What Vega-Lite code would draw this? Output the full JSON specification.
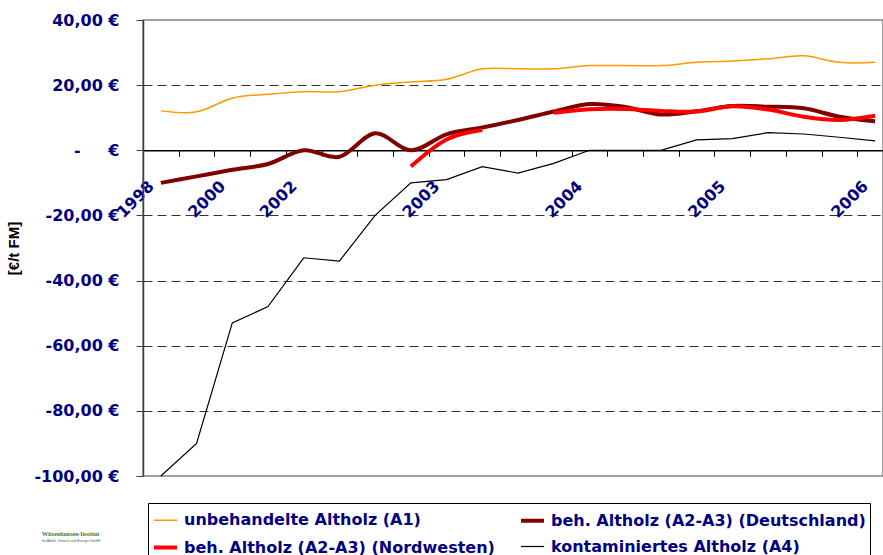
{
  "$schema": "https://vega.github.io/schema/vega-lite/v6.json",
  "width": 740,
  "height": 456,
  "autosize": {"type": "none"},
  "padding": {"left": 143, "top": 20, "right": 0, "bottom": 79},
  "background": "white",
  "config": {"view": {"stroke": "#808080", "strokeWidth": 1.5}, "font": "DejaVu Sans"},
  "title": {
    "text": "Witzenhausen-Institut",
    "subtitle": "für Abfall, Umwelt und Energie GmbH",
    "orient": "top",
    "anchor": "start",
    "frame": "group",
    "dx": -101,
    "dy": 530,
    "offset": 0,
    "font": "Liberation Serif",
    "fontSize": 6,
    "fontWeight": "bold",
    "color": "#2e7d4f",
    "subtitleFont": "Liberation Sans",
    "subtitleFontSize": 3.5,
    "subtitleColor": "#555555",
    "subtitlePadding": 2
  },
  "data": {
    "values": [
      {"t": "1998", "s": "unbehandelte Altholz (A1)", "v": 12.1, "seg": "a"},
      {"t": "1999", "s": "unbehandelte Altholz (A1)", "v": 11.8, "seg": "a"},
      {"t": "2000", "s": "unbehandelte Altholz (A1)", "v": 16, "seg": "a"},
      {"t": "2001", "s": "unbehandelte Altholz (A1)", "v": 17.2, "seg": "a"},
      {"t": "2002", "s": "unbehandelte Altholz (A1)", "v": 18, "seg": "a"},
      {"t": "2002/2", "s": "unbehandelte Altholz (A1)", "v": 18, "seg": "a"},
      {"t": "2002/3", "s": "unbehandelte Altholz (A1)", "v": 20, "seg": "a"},
      {"t": "2002/4", "s": "unbehandelte Altholz (A1)", "v": 21, "seg": "a"},
      {"t": "2003", "s": "unbehandelte Altholz (A1)", "v": 21.8, "seg": "a"},
      {"t": "2003/2", "s": "unbehandelte Altholz (A1)", "v": 25, "seg": "a"},
      {"t": "2003/3", "s": "unbehandelte Altholz (A1)", "v": 25, "seg": "a"},
      {"t": "2003/4", "s": "unbehandelte Altholz (A1)", "v": 25, "seg": "a"},
      {"t": "2004", "s": "unbehandelte Altholz (A1)", "v": 26, "seg": "a"},
      {"t": "2004/2", "s": "unbehandelte Altholz (A1)", "v": 26, "seg": "a"},
      {"t": "2004/3", "s": "unbehandelte Altholz (A1)", "v": 26, "seg": "a"},
      {"t": "2004/4", "s": "unbehandelte Altholz (A1)", "v": 27, "seg": "a"},
      {"t": "2005", "s": "unbehandelte Altholz (A1)", "v": 27.4, "seg": "a"},
      {"t": "2005/2", "s": "unbehandelte Altholz (A1)", "v": 28.1, "seg": "a"},
      {"t": "2005/3", "s": "unbehandelte Altholz (A1)", "v": 29, "seg": "a"},
      {"t": "2005/4", "s": "unbehandelte Altholz (A1)", "v": 27, "seg": "a"},
      {"t": "2006", "s": "unbehandelte Altholz (A1)", "v": 27, "seg": "a"},

      {"t": "1998", "s": "beh. Altholz (A2-A3) (Deutschland)", "v": -10, "seg": "a"},
      {"t": "1999", "s": "beh. Altholz (A2-A3) (Deutschland)", "v": -8, "seg": "a"},
      {"t": "2000", "s": "beh. Altholz (A2-A3) (Deutschland)", "v": -6, "seg": "a"},
      {"t": "2001", "s": "beh. Altholz (A2-A3) (Deutschland)", "v": -4.2, "seg": "a"},
      {"t": "2002", "s": "beh. Altholz (A2-A3) (Deutschland)", "v": 0, "seg": "a"},
      {"t": "2002/2", "s": "beh. Altholz (A2-A3) (Deutschland)", "v": -2, "seg": "a"},
      {"t": "2002/3", "s": "beh. Altholz (A2-A3) (Deutschland)", "v": 5.2, "seg": "a"},
      {"t": "2002/4", "s": "beh. Altholz (A2-A3) (Deutschland)", "v": 0, "seg": "a"},
      {"t": "2003", "s": "beh. Altholz (A2-A3) (Deutschland)", "v": 4.9, "seg": "a"},
      {"t": "2003/2", "s": "beh. Altholz (A2-A3) (Deutschland)", "v": 7, "seg": "a"},
      {"t": "2003/3", "s": "beh. Altholz (A2-A3) (Deutschland)", "v": 9.3, "seg": "a"},
      {"t": "2003/4", "s": "beh. Altholz (A2-A3) (Deutschland)", "v": 11.9, "seg": "a"},
      {"t": "2004", "s": "beh. Altholz (A2-A3) (Deutschland)", "v": 14.2, "seg": "a"},
      {"t": "2004/2", "s": "beh. Altholz (A2-A3) (Deutschland)", "v": 13.3, "seg": "a"},
      {"t": "2004/3", "s": "beh. Altholz (A2-A3) (Deutschland)", "v": 11, "seg": "a"},
      {"t": "2004/4", "s": "beh. Altholz (A2-A3) (Deutschland)", "v": 12, "seg": "a"},
      {"t": "2005", "s": "beh. Altholz (A2-A3) (Deutschland)", "v": 13.6, "seg": "a"},
      {"t": "2005/2", "s": "beh. Altholz (A2-A3) (Deutschland)", "v": 13.4, "seg": "a"},
      {"t": "2005/3", "s": "beh. Altholz (A2-A3) (Deutschland)", "v": 12.9, "seg": "a"},
      {"t": "2005/4", "s": "beh. Altholz (A2-A3) (Deutschland)", "v": 10.3, "seg": "a"},
      {"t": "2006", "s": "beh. Altholz (A2-A3) (Deutschland)", "v": 8.9, "seg": "a"},

      {"t": "2002/4", "s": "beh. Altholz (A2-A3) (Nordwesten)", "v": -5, "seg": "a"},
      {"t": "2003", "s": "beh. Altholz (A2-A3) (Nordwesten)", "v": 3.3, "seg": "a"},
      {"t": "2003/2", "s": "beh. Altholz (A2-A3) (Nordwesten)", "v": 6.2, "seg": "a"},
      {"t": "2003/4", "s": "beh. Altholz (A2-A3) (Nordwesten)", "v": 11.5, "seg": "b"},
      {"t": "2004", "s": "beh. Altholz (A2-A3) (Nordwesten)", "v": 12.6, "seg": "b"},
      {"t": "2004/2", "s": "beh. Altholz (A2-A3) (Nordwesten)", "v": 12.7, "seg": "b"},
      {"t": "2004/3", "s": "beh. Altholz (A2-A3) (Nordwesten)", "v": 12.1, "seg": "b"},
      {"t": "2004/4", "s": "beh. Altholz (A2-A3) (Nordwesten)", "v": 11.9, "seg": "b"},
      {"t": "2005", "s": "beh. Altholz (A2-A3) (Nordwesten)", "v": 13.5, "seg": "b"},
      {"t": "2005/2", "s": "beh. Altholz (A2-A3) (Nordwesten)", "v": 12.5, "seg": "b"},
      {"t": "2005/3", "s": "beh. Altholz (A2-A3) (Nordwesten)", "v": 10.3, "seg": "b"},
      {"t": "2005/4", "s": "beh. Altholz (A2-A3) (Nordwesten)", "v": 9.3, "seg": "b"},
      {"t": "2006", "s": "beh. Altholz (A2-A3) (Nordwesten)", "v": 10.6, "seg": "b"},

      {"t": "1998", "s": "kontaminiertes Altholz (A4)", "v": -100, "seg": "a"},
      {"t": "1999", "s": "kontaminiertes Altholz (A4)", "v": -90, "seg": "a"},
      {"t": "2000", "s": "kontaminiertes Altholz (A4)", "v": -53, "seg": "a"},
      {"t": "2001", "s": "kontaminiertes Altholz (A4)", "v": -48, "seg": "a"},
      {"t": "2002", "s": "kontaminiertes Altholz (A4)", "v": -33, "seg": "a"},
      {"t": "2002/2", "s": "kontaminiertes Altholz (A4)", "v": -34, "seg": "a"},
      {"t": "2002/3", "s": "kontaminiertes Altholz (A4)", "v": -20, "seg": "a"},
      {"t": "2002/4", "s": "kontaminiertes Altholz (A4)", "v": -10, "seg": "a"},
      {"t": "2003", "s": "kontaminiertes Altholz (A4)", "v": -9, "seg": "a"},
      {"t": "2003/2", "s": "kontaminiertes Altholz (A4)", "v": -5, "seg": "a"},
      {"t": "2003/3", "s": "kontaminiertes Altholz (A4)", "v": -7, "seg": "a"},
      {"t": "2003/4", "s": "kontaminiertes Altholz (A4)", "v": -4, "seg": "a"},
      {"t": "2004", "s": "kontaminiertes Altholz (A4)", "v": 0, "seg": "a"},
      {"t": "2004/2", "s": "kontaminiertes Altholz (A4)", "v": 0, "seg": "a"},
      {"t": "2004/3", "s": "kontaminiertes Altholz (A4)", "v": 0, "seg": "a"},
      {"t": "2004/4", "s": "kontaminiertes Altholz (A4)", "v": 3.2, "seg": "a"},
      {"t": "2005", "s": "kontaminiertes Altholz (A4)", "v": 3.6, "seg": "a"},
      {"t": "2005/2", "s": "kontaminiertes Altholz (A4)", "v": 5.4, "seg": "a"},
      {"t": "2005/3", "s": "kontaminiertes Altholz (A4)", "v": 5.0, "seg": "a"},
      {"t": "2005/4", "s": "kontaminiertes Altholz (A4)", "v": 4.0, "seg": "a"},
      {"t": "2006", "s": "kontaminiertes Altholz (A4)", "v": 2.9, "seg": "a"}
    ]
  },
  "encoding": {
    "x": {
      "field": "t",
      "type": "ordinal",
      "bandPosition": 0.5,
      "scale": {
        "type": "band",
        "domain": ["1998", "1999", "2000", "2001", "2002", "2002/2", "2002/3", "2002/4", "2003", "2003/2", "2003/3", "2003/4", "2004", "2004/2", "2004/3", "2004/4", "2005", "2005/2", "2005/3", "2005/4", "2006"],
        "range": [0, 750],
        "paddingInner": 0,
        "paddingOuter": 0
      },
      "axis": {
        "orient": "bottom",
        "offset": -325.7,
        "tickBand": "extent",
        "labelAngle": -45,
        "labelAlign": "right",
        "labelBaseline": "middle",
        "labelExpr": "indexof(['1998','2000','2002','2003','2004','2005','2006'], datum.value) >= 0 ? datum.value : ''",
        "labelFont": "DejaVu Sans",
        "labelFontWeight": "bold",
        "labelFontSize": 16,
        "labelColor": "#000080",
        "labelPadding": 27,
        "labelOffset": -10,
        "labelOverlap": false,
        "domainColor": "#000000",
        "domainWidth": 1.5,
        "tickColor": "#000000",
        "tickSize": 6,
        "tickWidth": 1,
        "grid": false,
        "title": null
      }
    },
    "y": {
      "field": "v",
      "type": "quantitative",
      "scale": {"domain": [-100, 40], "nice": false, "zero": false},
      "axis": {
        "values": [-100, -80, -60, -40, -20, 0, 20, 40],
        "labelExpr": "datum.value === 0 ? '-\u00a0\u00a0\u00a0\u00a0\u00a0€' : (datum.value < 0 ? '-' : '') + replace(format(abs(datum.value), '.2f'), '.', ',') + '\u00a0€'",
        "labelFont": "DejaVu Sans",
        "labelFontWeight": "bold",
        "labelFontSize": 16,
        "labelColor": "#000080",
        "labelPadding": 17,
        "domainColor": "#404040",
        "domainWidth": 1.5,
        "tickColor": "#404040",
        "tickSize": 7,
        "grid": true,
        "gridColor": "#333333",
        "gridDash": [9, 5],
        "gridWidth": 1,
        "gridOpacity": {"condition": {"test": "datum.value === 40 || datum.value === -100 || datum.value === 0", "value": 0}, "value": 1},
        "title": "[€/t FM]",
        "titleFont": "Liberation Sans",
        "titleFontSize": 15,
        "titleFontWeight": "bold",
        "titleColor": "#000000",
        "titlePadding": 12
      }
    },
    "color": {
      "field": "s",
      "type": "nominal",
      "scale": {
        "domain": ["unbehandelte Altholz (A1)", "beh. Altholz (A2-A3) (Deutschland)", "beh. Altholz (A2-A3) (Nordwesten)", "kontaminiertes Altholz (A4)"],
        "range": ["#FF9900", "#800000", "#FF0000", "#000000"]
      },
      "legend": {
        "title": null,
        "orient": "none",
        "legendX": 5,
        "legendY": 483,
        "direction": "horizontal",
        "columns": 2,
        "symbolType": "stroke",
        "symbolSize": 529,
        "labelFont": "DejaVu Sans",
        "labelFontWeight": "bold",
        "labelFontSize": 16,
        "labelColor": "#000080",
        "labelOffset": 5,
        "labelLimit": 0,
        "fillColor": "#ffffff",
        "strokeColor": "#000000",
        "padding": 4,
        "columnPadding": 18,
        "rowPadding": 5
      }
    },
    "strokeWidth": {
      "field": "s",
      "type": "nominal",
      "scale": {
        "type": "ordinal",
        "domain": ["unbehandelte Altholz (A1)", "beh. Altholz (A2-A3) (Deutschland)", "beh. Altholz (A2-A3) (Nordwesten)", "kontaminiertes Altholz (A4)"],
        "range": [1.5, 4, 4, 1.2]
      },
      "legend": {
        "title": null,
        "orient": "none",
        "legendX": 5,
        "legendY": 483,
        "direction": "horizontal",
        "columns": 2,
        "symbolType": "stroke",
        "symbolSize": 529,
        "labelFont": "DejaVu Sans",
        "labelFontWeight": "bold",
        "labelFontSize": 16,
        "labelColor": "#000080",
        "labelOffset": 5,
        "labelLimit": 0,
        "fillColor": "#ffffff",
        "strokeColor": "#000000",
        "padding": 4,
        "columnPadding": 18,
        "rowPadding": 5
      }
    },
    "detail": {"field": "seg", "type": "nominal"}
  },
  "layer": [
    {"transform": [{"filter": "datum.s === 'unbehandelte Altholz (A1)'"}], "mark": {"type": "line", "interpolate": "cardinal", "tension": 0}},
    {"transform": [{"filter": "datum.s === 'beh. Altholz (A2-A3) (Deutschland)'"}], "mark": {"type": "line", "interpolate": "cardinal", "tension": 0}},
    {"transform": [{"filter": "datum.s === 'beh. Altholz (A2-A3) (Nordwesten)'"}], "mark": {"type": "line", "interpolate": "cardinal", "tension": 0}},
    {"transform": [{"filter": "datum.s === 'kontaminiertes Altholz (A4)'"}], "mark": {"type": "line", "interpolate": "linear"}}
  ]
}
